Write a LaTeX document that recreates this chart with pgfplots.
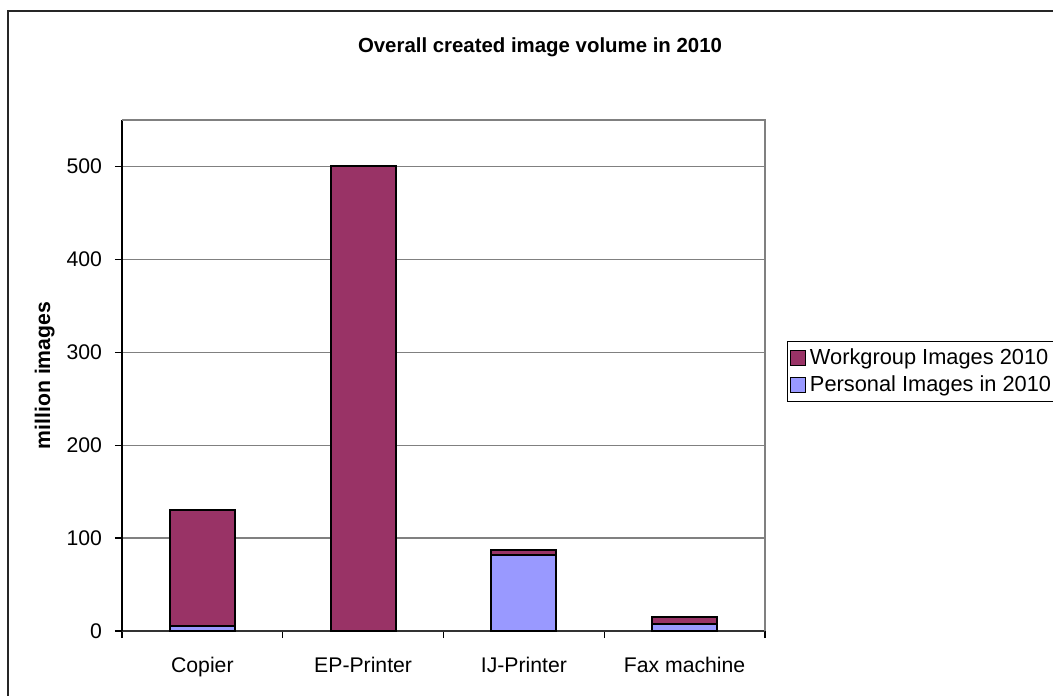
\documentclass[border=0pt]{standalone}
\usepackage{pgfplots}
\pgfplotsset{compat=1.18}
\usepackage{fontspec}
\setmainfont{Liberation Sans}
\definecolor{wg}{HTML}{993366}
\definecolor{ps}{HTML}{9999FF}
\definecolor{gridgray}{HTML}{808080}
\begin{document}
\begin{tikzpicture}[x=1pt,y=1pt]
\useasboundingbox (-61,-32) rectangle (465.5,315.5);
\draw[line width=0.8pt,black!85] (-57,-40) -- (-57,310) -- (470,310);
\begin{axis}[
  at={(0,0)}, anchor=south west,
  scale only axis, width=321.5pt, height=255.5pt,
  ybar stacked, bar width=32.5pt,
  xmin=-0.5, xmax=3.5, ymin=0, ymax=550,
  xtick={0,1,2,3},
  xticklabels={Copier,EP-Printer,IJ-Printer,Fax machine},
  minor xtick={-0.5,0.5,1.5,2.5,3.5},
  ytick={0,100,200,300,400,500},
  tick align=outside, tick pos=left,
  major x tick style={draw=none},
  minor tick length=3.5pt, major tick length=3.5pt,
  every tick/.style={black, line width=0.6pt},
  ymajorgrids, grid style={gridgray, line width=0.6pt},
  axis line style={draw=none},
  font=\fontsize{10.6}{12.5}\selectfont,
  /pgf/number format/assume math mode=true,
  xticklabel style={yshift=-6pt},
  yticklabel style={xshift=-3pt},
  ylabel={\bfseries million images},
  ylabel style={at={(axis description cs:-0.094,0.5)}, anchor=south, font=\fontsize{10.6}{12.5}\selectfont},
  reverse legend,
  legend style={at={(axis description cs:1.0342,0.5675)}, anchor=north west,
    draw=black, line width=0.6pt, font=\fontsize{10.9}{13}\selectfont,
    inner xsep=1pt, inner ysep=1.5pt, row sep=0pt, cells={anchor=west}},
  legend image code/.code={\draw[#1, line width=0.6pt] (0pt,-3.8pt) rectangle (7.6pt,3.8pt);},
  clip=false,
]
\addplot[fill=ps, draw=black, line width=1pt] coordinates {(0,5.5) (1,0) (2,82) (3,7.5)};
\addlegendentry{Personal Images in 2010}
\addplot[fill=wg, draw=black, line width=1pt] coordinates {(0,125) (1,501) (2,5.5) (3,8)};
\addlegendentry{Workgroup Images 2010}
\draw[gridgray, line width=0.7pt] (axis cs:-0.5,550) -- (axis cs:3.5,550) -- (axis cs:3.5,0);
\draw[black, line width=0.7pt] (axis cs:-0.5,0) -- (axis cs:-0.5,550);
\draw[black!80, line width=0.7pt] (axis cs:-0.5,0) -- (axis cs:3.5,0);
\end{axis}
\node[font=\fontsize{10.2}{12}\selectfont\bfseries] at (209,292) {Overall created image volume in 2010};
\end{tikzpicture}
\end{document}
